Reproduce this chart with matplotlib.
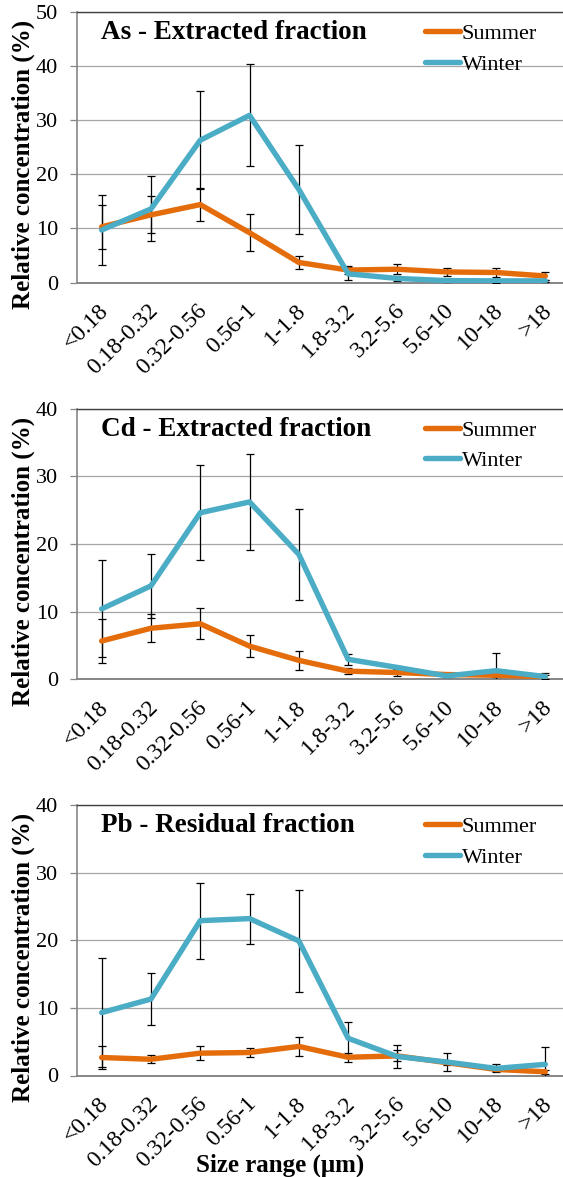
import matplotlib
matplotlib.use("Agg")
import matplotlib.pyplot as plt
import matplotlib.transforms as mtransforms
import numpy as np

plt.rcParams['font.family'] = ['Liberation Serif', 'DejaVu Serif']

sizes = ['<0.18', '0.18-0.32', '0.32-0.56', '0.56-1', '1-1.8',
         '1.8-3.2', '3.2-5.6', '5.6-10', '10-18', '>18']

# As - extracted fraction
as_summer = [10.3, 12.5, 14.4, 9.2, 3.7, 2.3, 2.45, 1.95, 1.85, 1.2]
as_summer_err = [4.1, 3.4, 3.0, 3.4, 1.2, 0.7, 0.9, 0.8, 0.8, 0.7]
as_winter = [9.7, 13.6, 26.3, 30.9, 17.2, 1.6, 0.75, 0.35, 0.3, 0.3]
as_winter_err = [6.5, 6.0, 9.1, 9.4, 8.2, 1.2, 0.5, 0.3, 0.3, 0.2]

# Cd - extracted fraction
cd_summer = [5.66, 7.54, 8.2, 4.9, 2.8, 1.2, 1.0, 0.7, 0.6, 0.4]
cd_summer_err = [3.2, 2.07, 2.3, 1.65, 1.4, 0.45, 0.5, 0.2, 0.2, 0.6]
cd_winter = [10.4, 13.8, 24.6, 26.2, 18.45, 2.95, 1.75, 0.5, 1.27, 0.4]
cd_winter_err = [7.15, 4.7, 7.0, 7.1, 6.75, 0.8, 0.2, 0.2, 2.55, 0.3]

# Pb - residual fraction
pb_summer = [2.66, 2.4, 3.3, 3.4, 4.3, 2.7, 2.9, 1.9, 0.9, 0.55]
pb_summer_err = [1.65, 0.6, 1.0, 0.7, 1.4, 0.7, 0.8, 0.3, 0.3, 0.3]
pb_winter = [9.3, 11.3, 22.9, 23.2, 19.9, 5.5, 2.8, 2.0, 1.05, 1.65]
pb_winter_err = [8.1, 3.8, 5.6, 3.7, 7.6, 2.4, 1.65, 1.3, 0.6, 2.6]

titles = ['As - Extracted fraction', 'Cd - Extracted fraction', 'Pb - Residual fraction']
ymaxes = [50, 40, 40]

ORANGE = '#E46C0A'
BLUE = '#4BACC6'

W, H = 563, 1177
fig = plt.figure(figsize=(W / 100, H / 100), dpi=100)

# panel boxes in pixels: (top, bottom)
boxes = [(12, 282.5), (408.5, 679.3), (805, 1075.5)]
left_px, right_px = 77, 570

data = [(as_summer, as_summer_err, as_winter, as_winter_err),
        (cd_summer, cd_summer_err, cd_winter, cd_winter_err),
        (pb_summer, pb_summer_err, pb_winter, pb_winter_err)]

x = np.arange(len(sizes))
# nudge the slanted category labels a little to the right
label_shift = mtransforms.ScaledTranslation(4 / 100, 0, fig.dpi_scale_trans)

for i, (top, bot) in enumerate(boxes):
    ax = fig.add_axes([left_px / W, 1 - bot / H, (right_px - left_px) / W, (bot - top) / H])
    s, se, w, we = data[i]

    for vals, err, col, lab in [(s, se, ORANGE, 'Summer'), (w, we, BLUE, 'Winter')]:
        ax.errorbar(x, vals, yerr=err, fmt='none', ecolor='black', elinewidth=0.9,
                    capsize=2.6, capthick=0.9, zorder=3)
        ax.plot(x, vals, color=col, lw=3.9, label=lab, solid_joinstyle='round',
                solid_capstyle='round', zorder=4)

    ax.set_xlim(-0.5, len(sizes) - 0.5)
    ax.set_ylim(0, ymaxes[i])
    ax.set_yticks(np.arange(0, ymaxes[i] + 1, 10))
    ax.grid(axis='y', color='#A6A6A6', lw=0.9, zorder=0)
    ax.set_axisbelow(True)

    ax.spines['right'].set_visible(False)
    ax.spines['top'].set_color('#404040')
    ax.spines['top'].set_linewidth(1.0)
    ax.spines['left'].set_color('#868686')
    ax.spines['left'].set_linewidth(1.2)
    ax.spines['bottom'].set_color('#868686')
    ax.spines['bottom'].set_linewidth(1.4)

    ax.tick_params(axis='y', direction='out', length=5, width=0.9, color='#868686',
                   labelsize=16, pad=8.5)
    ax.tick_params(axis='x', length=0, labelsize=17, pad=18)
    ax.set_xticks(x)
    ax.set_xticklabels(sizes, rotation=45, ha='right', va='center', rotation_mode='anchor')
    for lbl in ax.get_xticklabels():
        lbl.set_transform(lbl.get_transform() + label_shift)

    ax.set_ylabel('Relative concentration (%)', fontsize=18, fontweight='bold', va='center')
    ax.yaxis.set_label_coords(-0.1095, 0.437)

    ax.text(0.0487, 0.90, titles[i], transform=ax.transAxes, fontsize=19.5,
            fontweight='bold', va='baseline', ha='left')

    ax.legend(loc='upper left', bbox_to_anchor=(0.674, 1.015), frameon=False, fontsize=16,
              handlelength=1.6, handletextpad=0.05, labelspacing=0.45, borderaxespad=0.3)

    if i == 2:
        ax.set_xlabel('Size range (\u03bcm)', fontsize=18, fontweight='bold', va='baseline')
        ax.xaxis.set_label_coords(0.412, -0.3556)

fig.savefig('out.png', dpi=100)
